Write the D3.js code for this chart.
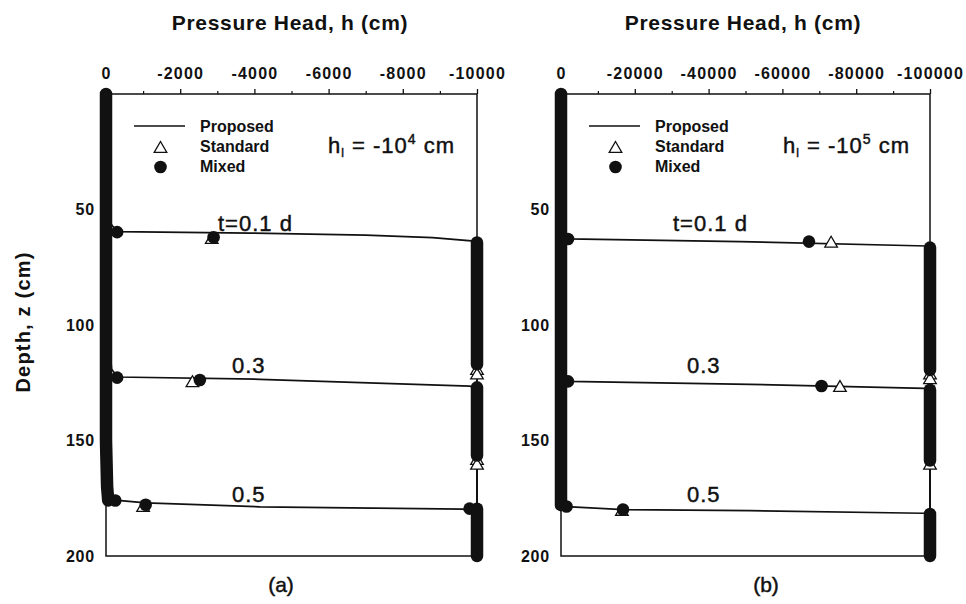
<!DOCTYPE html>
<html>
<head>
<meta charset="utf-8">
<script src="https://cdn.jsdelivr.net/npm/d3@7"></script>
<style>
    body { margin: 0; background: #fff; }
    svg text { font-family: "Liberation Sans", Arial, Helvetica, sans-serif; fill: #111; }
    .medium { stroke: #111; stroke-width: 0.45px; }
</style>
</head>
<body>
<div id="chart"></div>
<script>

// ---- data ----
// depth (cm) axis, shared by both panels
const depthTicks = [50, 100, 150, 200];
const timeLabels = ["t=0.1 d", "0.3", "0.5"];

// panel (a): initial head -10^4 cm
const hTicksA = [0, -2000, -4000, -6000, -8000, -10000];
const hMinorA = [-1000, -3000, -5000, -7000, -9000];
// proposed solution, [h, z] per time
const proposedA01 = [[-40, 0], [-60, 40], [-120, 56], [-300, 59.6], [-3900, 60.2], [-7000, 61.1], [-8800, 62.2], [-10000, 63.8], [-10000, 200]];
const proposedA03 = [[-40, 0], [-60, 100], [-150, 119], [-300, 122.5], [-4150, 123.5], [-9800, 126.5], [-10000, 127], [-10000, 200]];
const proposedA05 = [[-40, 0], [-60, 150], [-150, 173], [-250, 175.8], [-1070, 177], [-4150, 178.7], [-9620, 179.7], [-10000, 181], [-10000, 200]];
// dense marker columns (standard + mixed overlapping)
const bandsA = [
    [[0, 0], [0, 150], [-30, 170], [-60, 176]],
    [[-10000, 64.3], [-10000, 117]],
    [[-10000, 127], [-10000, 156.5]],
    [[-10000, 179.5], [-10000, 200]]
];
const standardA = [[-2850, 62.8], [-2330, 124.8], [-1000, 178.8],
    [-10000, 119.5], [-10000, 121.5], [-10000, 158.5], [-10000, 160.5]];
const mixedA = [[-300, 59.8], [-2900, 62], [-300, 122.8], [-2530, 123.8],
    [-250, 176], [-1070, 177.8], [-9800, 179.5]];

// panel (b): initial head -10^5 cm
const hTicksB = [0, -20000, -40000, -60000, -80000, -100000];
const hMinorB = [-10000, -30000, -50000, -70000, -90000];
const proposedB01 = [[-30, 0], [-100, 50], [-500, 60], [-1900, 62.7], [-48500, 63.9], [-99200, 65.8], [-100000, 66], [-100000, 200]];
const proposedB03 = [[-30, 0], [-100, 110], [-500, 122], [-1900, 124.4], [-51200, 125.7], [-98600, 127.4], [-100000, 127.6], [-100000, 200]];
const proposedB05 = [[-30, 0], [-100, 160], [-500, 176], [-1500, 178.6], [-16800, 179.9], [-51200, 180.4], [-98000, 181.5], [-100000, 181.6], [-100000, 200]];
const bandsB = [
    [[0, 0], [0, 178]],
    [[-100000, 66.5], [-100000, 119.5]],
    [[-100000, 128], [-100000, 158.7]],
    [[-100000, 181.8], [-100000, 200]]
];
const standardB = [[-73200, 64.4], [-75600, 126.9], [-16500, 180.5],
    [-100000, 121.5], [-100000, 123.5], [-100000, 160.5]];
const mixedB = [[-1900, 62.8], [-67200, 63.9], [-1900, 124.4], [-70600, 126.4],
    [-1500, 178.6], [-16800, 179.9]];


const width = 966, height = 604;

const svg = d3.select("#chart").append("svg")
    .attr("width", width)
    .attr("height", height);

// shared depth scale
const y = d3.scaleLinear().domain([0, 200]).range([94, 556]);

// open triangle marker
const triPath = "M0,-6.5L6.3,4.3L-6.3,4.3Z";

function drawPanel(p) {

    let x = d3.scaleLinear().domain(p.domain).range(p.range);
    let g = svg.append("g").attr("class", "panel");
    let x0 = p.range[0];

    // title
    svg.append("text")
        .attr("x", p.titleX)
        .attr("y", 30)
        .attr("text-anchor", "middle")
        .attr("font-size", "21px")
        .attr("font-weight", "bold")
        .attr("letter-spacing", "0.7px")
        .text("Pressure Head, h (cm)");

    // top axis, major + minor
    let axisTop = g.append("g")
        .attr("transform", `translate(0, ${y(0)})`)
        .call(d3.axisTop(x).tickValues(p.ticks).tickSize(5)
            .tickFormat(d => d === 0 ? "0" : "-" + Math.abs(d)));
    axisTop.select(".domain").remove();
    axisTop.selectAll("line").attr("stroke", "#111").attr("stroke-width", 1.3);
    axisTop.selectAll("text")
        .attr("y", -15)
        .attr("dy", 0)
        .attr("font-size", "16px")
        .attr("font-weight", "bold")
        .attr("letter-spacing", "1.2px")
        .attr("font-family", "Liberation Sans, Arial, sans-serif")
        .attr("fill", "#111");

    let axisMinor = g.append("g")
        .attr("transform", `translate(0, ${y(0)})`)
        .call(d3.axisTop(x).tickValues(p.minor).tickSize(3).tickFormat(""));
    axisMinor.select(".domain").remove();
    axisMinor.selectAll("line").attr("stroke", "#111").attr("stroke-width", 1.2);

    // left axis labels
    let axisLeft = g.append("g")
        .attr("transform", `translate(${x0}, 0)`)
        .call(d3.axisLeft(y).tickValues(depthTicks).tickSize(0).tickPadding(11));
    axisLeft.select(".domain").remove();
    axisLeft.selectAll("text")
        .attr("font-size", "16px")
        .attr("font-weight", "bold")
        .attr("letter-spacing", "0.8px")
        .attr("font-family", "Liberation Sans, Arial, sans-serif")
        .attr("fill", "#111");

    // frame
    g.append("rect")
        .attr("x", x(p.domain[0]))
        .attr("y", y(0))
        .attr("width", x(p.domain[1]) - x(p.domain[0]))
        .attr("height", y(200) - y(0))
        .attr("fill", "none")
        .attr("stroke", "#111")
        .attr("stroke-width", 1.5);

    let line = d3.line().x(d => x(d[0])).y(d => y(d[1]));

    // proposed profiles
    g.selectAll(".proposed")
        .data(p.proposed)
        .enter().append("path")
        .attr("class", "proposed")
        .attr("d", line)
        .attr("fill", "none")
        .attr("stroke", "#111")
        .attr("stroke-width", 1.7);

    // standard (open triangles)
    g.selectAll(".standard")
        .data(p.standard)
        .enter().append("path")
        .attr("class", "standard")
        .attr("d", triPath)
        .attr("transform", d => `translate(${x(d[0])}, ${y(d[1])})`)
        .attr("fill", "#fff")
        .attr("stroke", "#111")
        .attr("stroke-width", 1.3);

    // dense marker columns
    g.selectAll(".band")
        .data(p.bands)
        .enter().append("path")
        .attr("class", "band")
        .attr("d", line)
        .attr("fill", "none")
        .attr("stroke", "#111")
        .attr("stroke-width", 12.5)
        .attr("stroke-linecap", "round")
        .attr("stroke-linejoin", "round");

    // mixed (filled circles)
    g.selectAll(".mixed")
        .data(p.mixed)
        .enter().append("circle")
        .attr("class", "mixed")
        .attr("cx", d => x(d[0]))
        .attr("cy", d => y(d[1]))
        .attr("r", 6.3)
        .attr("fill", "#111");

    // time labels
    let labelPos = [[112, 230.7], [126, 373], [126, 502]];
    g.selectAll(".tlabel")
        .data(timeLabels)
        .enter().append("text")
        .attr("class", "tlabel medium")
        .attr("x", (d, i) => x0 + labelPos[i][0])
        .attr("y", (d, i) => labelPos[i][1])
        .attr("font-size", "22px")
        .attr("letter-spacing", "1px")
        .text(d => d);

    // legend
    let leg = g.append("g").attr("transform", `translate(${x0}, 0)`);
    leg.append("line")
        .attr("x1", 28).attr("x2", 79)
        .attr("y1", 126).attr("y2", 126)
        .attr("stroke", "#111").attr("stroke-width", 1.7);
    leg.append("path")
        .attr("d", triPath)
        .attr("transform", "translate(54.5, 148)")
        .attr("fill", "#fff").attr("stroke", "#111").attr("stroke-width", 1.3);
    leg.append("circle")
        .attr("cx", 54.5).attr("cy", 167)
        .attr("r", 6.3).attr("fill", "#111");
    leg.selectAll(".legtext")
        .data(["Proposed", "Standard", "Mixed"])
        .enter().append("text")
        .attr("class", "legtext")
        .attr("x", 94)
        .attr("y", (d, i) => 132 + i * 20)
        .attr("font-size", "16px")
        .attr("font-weight", "bold")
        .text(d => d);

    // initial condition note
    let note = g.append("text")
        .attr("class", "medium")
        .attr("x", x0 + 222)
        .attr("y", 153)
        .attr("font-size", "22px")
        .attr("letter-spacing", "1px");
    note.append("tspan").text("h");
    note.append("tspan").attr("font-size", "12px").attr("dy", 4).text("l");
    note.append("tspan").attr("dy", -4).text(" = -10");
    note.append("tspan").attr("font-size", "14px").attr("dy", -9).text(p.exponent);
    note.append("tspan").attr("dy", 9).text(" cm");

    // panel letter
    svg.append("text")
        .attr("class", "medium")
        .attr("x", p.letterX)
        .attr("y", 592)
        .attr("text-anchor", "middle")
        .attr("font-size", "21px")
        .text(p.letter);
}

drawPanel({
    domain: [0, -10000], range: [106, 477],
    ticks: hTicksA, minor: hMinorA,
    proposed: [proposedA01, proposedA03, proposedA05],
    bands: bandsA, standard: standardA, mixed: mixedA,
    exponent: "4", letter: "(a)", titleX: 290, letterX: 281
});

drawPanel({
    domain: [0, -100000], range: [561, 930],
    ticks: hTicksB, minor: hMinorB,
    proposed: [proposedB01, proposedB03, proposedB05],
    bands: bandsB, standard: standardB, mixed: mixedB,
    exponent: "5", letter: "(b)", titleX: 743, letterX: 766
});

// y axis title
svg.append("text")
    .attr("transform", "translate(30, 322) rotate(-90)")
    .attr("text-anchor", "middle")
    .attr("font-size", "20px")
    .attr("font-weight", "bold")
    .attr("letter-spacing", "1.2px")
    .text("Depth, z (cm)");

</script>
</body>
</html>
